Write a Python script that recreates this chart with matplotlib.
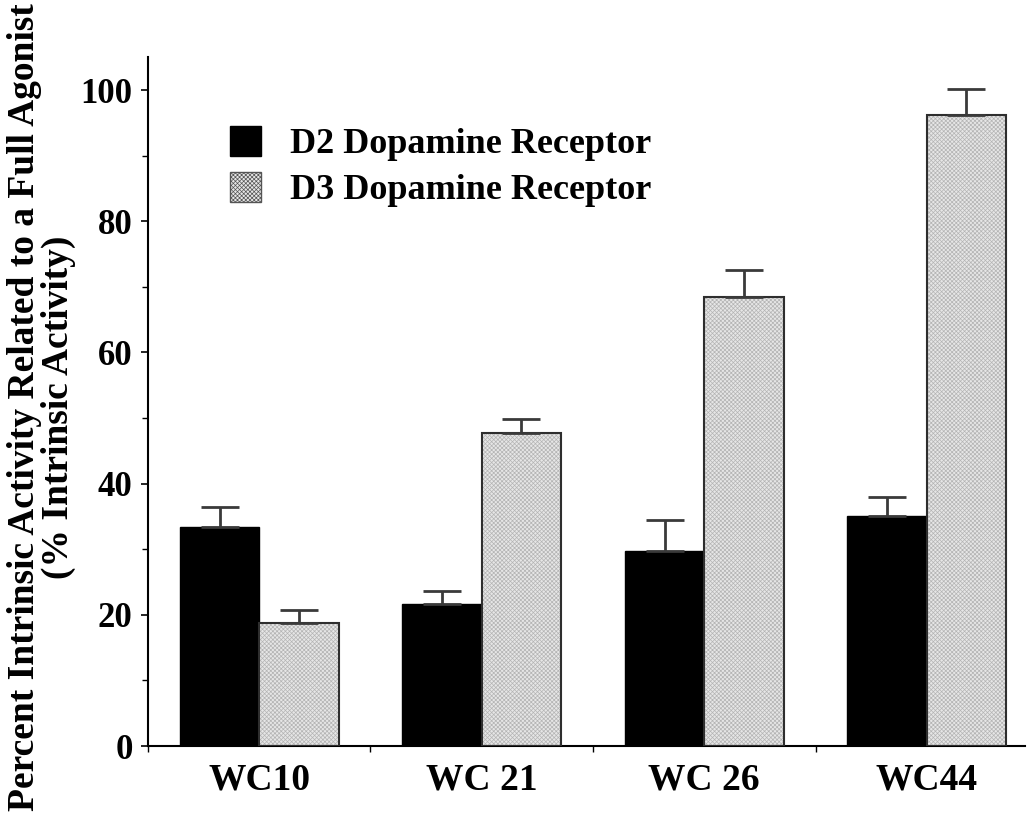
import matplotlib.pyplot as plt
import numpy as np

plt.rcParams['font.family'] = ['Liberation Serif', 'DejaVu Serif']
plt.rcParams['font.weight'] = 'bold'
plt.rcParams['hatch.linewidth'] = 0.5

compounds = ['WC10', 'WC 21', 'WC 26', 'WC44']
d2_mean = [33.4, 21.7, 29.7, 35.1]
d2_sem = [3.0, 2.0, 4.7, 2.9]
d3_mean = [18.7, 47.7, 68.5, 96.2]
d3_sem = [2.1, 2.1, 4.1, 4.0]

x = np.arange(len(compounds))
width = 0.357

fig = plt.figure(figsize=(10.29, 8.17), dpi=100)
ax = fig.add_axes([0.1438, 0.0869, 0.852, 0.843])

err_kw = dict(ecolor='#3a3a3a', elinewidth=2, capsize=14, capthick=2)

ax.bar(x - width / 2, d2_mean, width, color='black', edgecolor='black',
       linewidth=1, yerr=[np.zeros(4), d2_sem], error_kw=err_kw,
       label='D2 Dopamine Receptor')
# stippled fill first (hatch takes the edge colour), dark outline on top
ax.bar(x + width / 2, d3_mean, width, color='#e6e6e6', edgecolor='#b4b4b4',
       linewidth=0, hatch='xxxxxxxx', zorder=2)
ax.bar(x + width / 2, d3_mean, width, fill=False, edgecolor='#2e2e2e',
       linewidth=1.5, yerr=[np.zeros(4), d3_sem], error_kw=err_kw, zorder=3)

ax.set_xlim(-0.5, 3.44)
ax.set_ylim(0, 105)

ax.set_yticks(np.arange(0, 101, 20))
ax.set_yticks(np.arange(10, 100, 20), minor=True)
ax.tick_params(axis='y', which='major', direction='out', length=5, width=1.2,
               labelsize=25, pad=6)
ax.tick_params(axis='y', which='minor', direction='out', length=4, width=1)

ax.set_xticks([-0.5, 0.5, 1.5, 2.5])
ax.set_xticklabels([])
ax.set_xticks(x, minor=True)
ax.set_xticklabels(compounds, minor=True, fontsize=27)
ax.tick_params(axis='x', which='major', direction='out', length=4, width=1)
ax.tick_params(axis='x', which='minor', length=0, pad=12)

for side in ['top', 'right']:
    ax.spines[side].set_visible(False)
for side in ['left', 'bottom']:
    ax.spines[side].set_linewidth(1.5)

fig.text(0.04, 0.502, 'Percent Intrinsic Activity Related to a Full Agonist\n'
         '(% Intrinsic Activity)', rotation=90, ha='center', va='center',
         fontsize=27, fontweight='bold', linespacing=0.95)

# legend built from proxy patches so the D3 swatch shows the stipple
d2_patch = plt.Rectangle((0, 0), 1, 1, facecolor='black', edgecolor='black')
d3_patch = plt.Rectangle((0, 0), 1, 1, facecolor='#e6e6e6', edgecolor='#555555',
                         hatch='xxxxxxxx', linewidth=1)
ax.legend([d2_patch, d3_patch], ['D2 Dopamine Receptor', 'D3 Dopamine Receptor'],
          loc='upper left', bbox_to_anchor=(0.057, 0.948), frameon=False,
          fontsize=26, handlelength=0.85, handleheight=0.9, handletextpad=0.8,
          labelspacing=0.3)

fig.savefig('out.png', dpi=100)
